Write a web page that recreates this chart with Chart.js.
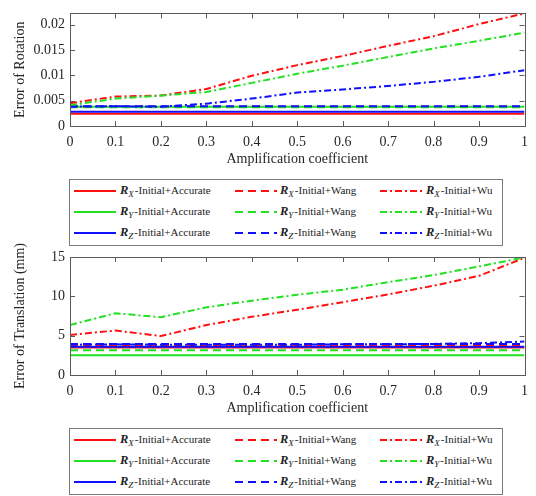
<!DOCTYPE html>
<html>
<head>
<meta charset="utf-8">
<script src="https://cdn.jsdelivr.net/npm/chart.js@4.4.1/dist/chart.umd.min.js"></script>
<style>
  body { margin: 0; background: #fff; }
  #wrap { position: relative; width: 536px; height: 496px; overflow: hidden; font-family: "Liberation Serif", "Times New Roman", serif; }
  canvas { position: absolute; left: 0; }
  .legend { position: absolute; left: 69px; width: 434px; height: 67px; border: 1px solid #7a7a7a; background: #fff; box-sizing: border-box; z-index: 2; }
  .sample { position: absolute; }
  .label { position: absolute; font-size: 11px; line-height: 14px; color: #222; white-space: nowrap; }
  .label b { font-size: 12.5px; }
  .label sub { font-size: 9px; font-style: italic; vertical-align: -3px; line-height: 0; margin-right: 1px; }
</style>
</head>
<body>
<div id="wrap">
  <canvas id="rot" width="536" height="172" style="top:0"></canvas>
  <div class="legend" id="legend-rot" style="top:179px"></div>
  <canvas id="trans" width="536" height="180" style="top:240px"></canvas>
  <div class="legend" id="legend-trans" style="top:428px"></div>
</div>
<script>
const xValues = [0, 0.1, 0.2, 0.3, 0.4, 0.5, 0.6, 0.7, 0.8, 0.9, 1];
const xTicks = [0, 0.1, 0.2, 0.3, 0.4, 0.5, 0.6, 0.7, 0.8, 0.9, 1];
const rotTicks = [0, 0.005, 0.01, 0.015, 0.02];
const rotMax = 0.0222;
const transTicks = [0, 5, 10, 15];
const transMax = 15;

// rotation error
const rotAccX = [0.0024, 0.0024, 0.0024, 0.0024, 0.0024, 0.0024, 0.0024, 0.0024, 0.0024, 0.0024, 0.0024];
const rotAccY = [0.0038, 0.0038, 0.0038, 0.0038, 0.0038, 0.0038, 0.0038, 0.0038, 0.0038, 0.0038, 0.0038];
const rotAccZ = [0.0028, 0.0028, 0.0028, 0.0028, 0.0028, 0.0028, 0.0028, 0.0028, 0.0028, 0.0028, 0.0028];
const rotWangX = [0.0038, 0.0038, 0.0038, 0.0038, 0.0038, 0.0038, 0.0038, 0.0038, 0.0038, 0.0038, 0.0038];
const rotWangY = [0.0037, 0.0037, 0.0037, 0.0037, 0.0037, 0.0037, 0.0037, 0.0037, 0.0037, 0.0037, 0.0037];
const rotWangZ = [0.0039, 0.0039, 0.0039, 0.0039, 0.0039, 0.0039, 0.0039, 0.0039, 0.0039, 0.0039, 0.0039];
const rotWuX = [0.0045, 0.0058, 0.006, 0.0073, 0.0099, 0.012, 0.0138, 0.0158, 0.0177, 0.0201, 0.0222];
const rotWuY = [0.0041, 0.0054, 0.006, 0.0067, 0.0085, 0.0103, 0.0119, 0.0136, 0.0153, 0.0168, 0.0184];
const rotWuZ = [0.0038, 0.0039, 0.0038, 0.0044, 0.0054, 0.0066, 0.0072, 0.0079, 0.0087, 0.0097, 0.011];

// translation error (mm)
const transAccX = [3.5, 3.5, 3.5, 3.5, 3.5, 3.5, 3.5, 3.5, 3.5, 3.5, 3.5];
const transAccY = [2.5, 2.5, 2.5, 2.5, 2.5, 2.5, 2.5, 2.5, 2.5, 2.5, 2.5];
const transAccZ = [3.6, 3.6, 3.6, 3.6, 3.6, 3.6, 3.6, 3.6, 3.6, 3.6, 3.6];
const transWangX = [3.8, 3.8, 3.8, 3.8, 3.8, 3.8, 3.8, 3.8, 3.8, 3.8, 3.8];
const transWangY = [3.15, 3.15, 3.15, 3.15, 3.15, 3.15, 3.15, 3.15, 3.15, 3.15, 3.15];
const transWangZ = [3.95, 3.95, 3.95, 3.95, 3.95, 3.95, 3.95, 3.95, 3.95, 3.95, 3.95];
const transWuX = [5.1, 5.65, 4.95, 6.35, 7.4, 8.3, 9.25, 10.25, 11.35, 12.6, 14.9];
const transWuY = [6.35, 7.85, 7.35, 8.6, 9.45, 10.2, 10.85, 11.8, 12.7, 13.8, 14.95];
const transWuZ = [3.85, 3.9, 3.85, 3.85, 3.85, 3.85, 3.9, 3.9, 3.95, 4.05, 4.25];

const axisNames = ["X", "Y", "Z"];
const methods = ["Accurate", "Wang", "Wu"];
const colors = ["#ff1010", "#22e022", "#1010ff"];
const dashes = { Accurate: [], Wang: [8, 5], Wu: [7, 3, 2, 3] };

const rotSeries = [rotAccX, rotAccY, rotAccZ, rotWangX, rotWangY, rotWangZ, rotWuX, rotWuY, rotWuZ];
const transSeries = [transAccX, transAccY, transAccZ, transWangX, transWangY, transWangZ, transWuX, transWuY, transWuZ];

function makeDatasets(series) {
    return series.map((values, i) => {
        let m = methods[Math.floor(i / 3)];
        return {
            label: "R" + axisNames[i % 3] + "-Initial+" + m,
            data: values.map((v, k) => ({ x: xValues[k], y: v })),
            borderColor: colors[i % 3],
            borderWidth: 2,
            borderDash: dashes[m],
            pointRadius: 0,
            tension: 0,
            fill: false,
            order: series.length - 1 - i   // later series drawn on top
        };
    });
}

// box around the plot, inward ticks on all four sides, axis titles
const frame = {
    id: "frame",
    afterDraw(chart, args, opts) {
        const { ctx, chartArea: a, scales: { x, y } } = chart;
        ctx.save();
        ctx.strokeStyle = "#5a5a5a";
        ctx.lineWidth = 1;
        ctx.strokeRect(Math.round(a.left) + 0.5, Math.round(a.top) + 0.5,
            Math.round(a.right - a.left), Math.round(a.bottom - a.top));
        ctx.beginPath();
        x.ticks.forEach(t => {
            let px = Math.round(x.getPixelForValue(t.value)) + 0.5;
            ctx.moveTo(px, a.bottom); ctx.lineTo(px, a.bottom - 5);
            ctx.moveTo(px, a.top); ctx.lineTo(px, a.top + 5);
        });
        y.ticks.forEach(t => {
            let py = Math.round(y.getPixelForValue(t.value)) + 0.5;
            ctx.moveTo(a.left, py); ctx.lineTo(a.left + 5, py);
            ctx.moveTo(a.right, py); ctx.lineTo(a.right - 5, py);
        });
        ctx.stroke();

        ctx.fillStyle = "#262626";
        ctx.font = '14px "Liberation Serif", serif';
        ctx.textAlign = "center";
        ctx.textBaseline = "middle";
        ctx.fillText(opts.xTitle, (a.left + a.right) / 2, a.bottom + 33);
        ctx.translate(20, (a.top + a.bottom) / 2);
        ctx.rotate(-Math.PI / 2);
        ctx.fillText(opts.yTitle, 0, 0);
        ctx.restore();
    }
};

function makeChart(id, series, yTicks, yMax, yTitle, padTop, xHeight) {
    const fontSpec = { family: '"Liberation Serif", serif', size: 14 };
    return new Chart(document.getElementById(id), {
        type: "line",
        data: { datasets: makeDatasets(series) },
        options: {
            responsive: false,
            animation: false,
            layout: { padding: { top: padTop, right: 10, left: 0, bottom: 0 } },
            plugins: {
                legend: { display: false },
                tooltip: { enabled: false },
                frame: { xTitle: "Amplification coefficient", yTitle: yTitle }
            },
            scales: {
                x: {
                    type: "linear",
                    min: 0,
                    max: 1,
                    grid: { display: false, drawTicks: false, tickLength: 0 },
                    border: { display: false },
                    afterBuildTicks: s => { s.ticks = xTicks.map(v => ({ value: v })); },
                    afterFit: s => { s.height = xHeight; },
                    ticks: { color: "#262626", font: fontSpec, padding: 8, maxRotation: 0, autoSkip: false,
                        callback: v => String(v) }
                },
                y: {
                    min: 0,
                    max: yMax,
                    grid: { display: false, drawTicks: false, tickLength: 0 },
                    border: { display: false },
                    afterBuildTicks: s => { s.ticks = yTicks.map(v => ({ value: v })); },
                    afterFit: s => { s.width = 70; },
                    ticks: { color: "#262626", font: fontSpec, padding: 5, autoSkip: false,
                        callback: v => String(v) }
                }
            }
        },
        plugins: [frame]
    });
}

function buildLegend(id) {
    const el = document.getElementById(id);
    const lineX = [4, 165, 310];
    const textX = [50, 210, 356];
    const rowY = [11, 32, 53];
    methods.forEach((m, mi) => {
        axisNames.forEach((a, ai) => {
            let svg = document.createElementNS("http://www.w3.org/2000/svg", "svg");
            svg.setAttribute("class", "sample");
            svg.setAttribute("width", "42");
            svg.setAttribute("height", "4");
            svg.style.left = lineX[mi] + "px";
            svg.style.top = (rowY[ai] - 2) + "px";
            let ln = document.createElementNS("http://www.w3.org/2000/svg", "line");
            ln.setAttribute("x1", "0"); ln.setAttribute("y1", "2");
            ln.setAttribute("x2", "42"); ln.setAttribute("y2", "2");
            ln.setAttribute("stroke", colors[ai]);
            ln.setAttribute("stroke-width", "2");
            if (dashes[m].length) ln.setAttribute("stroke-dasharray", dashes[m].join(" "));
            svg.appendChild(ln);
            el.appendChild(svg);

            let txt = document.createElement("div");
            txt.className = "label";
            txt.style.left = textX[mi] + "px";
            txt.style.top = (rowY[ai] - 8) + "px";
            txt.innerHTML = "<b><i>R</i></b><sub>" + a + "</sub>-Initial+" + m;
            el.appendChild(txt);
        });
    });
}

makeChart("rot", rotSeries, rotTicks, rotMax, "Error of Rotation", 8, 46);
makeChart("trans", transSeries, transTicks, transMax, "Error of Translation (mm)", 17, 45);
buildLegend("legend-rot");
buildLegend("legend-trans");
</script>
</body>
</html>
